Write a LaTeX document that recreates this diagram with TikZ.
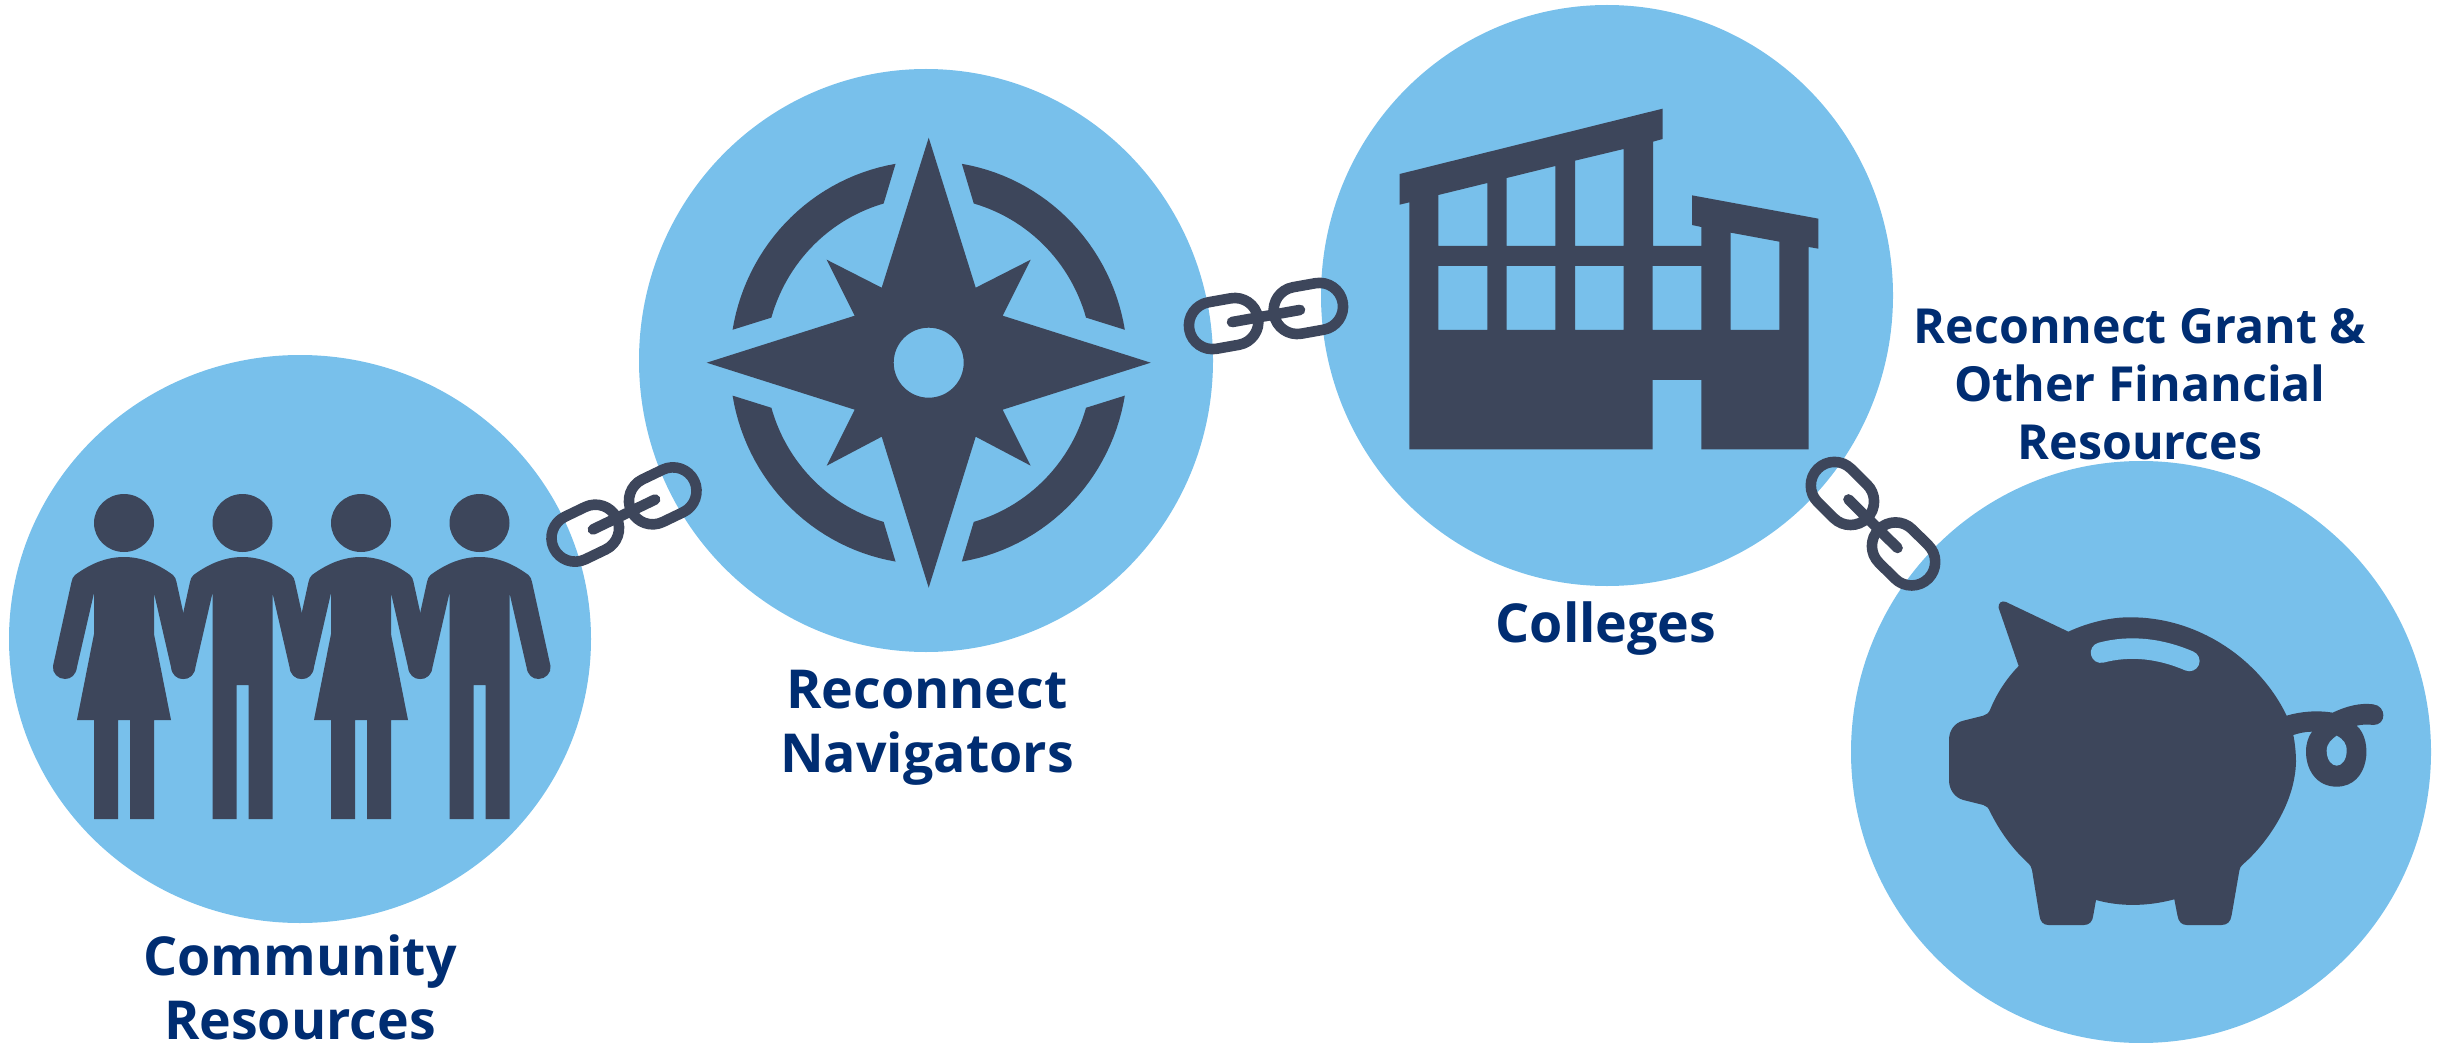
\documentclass[tikz,border=0pt]{standalone}
\usepackage{fontspec}
\setmainfont{Open Sans}
\usetikzlibrary{shapes.geometric}
\definecolor{discblue}{HTML}{78C0EB}
\definecolor{icondark}{HTML}{3D465B}
\definecolor{labelblue}{HTML}{002D72}
\tikzset{
  disc/.style={ellipse,fill=discblue,inner sep=0pt,outer sep=0pt},
  iconfill/.style={fill=icondark,draw=none},
  holefill/.style={fill=discblue,draw=none},
  caption/.style={text=labelblue,font=\fontsize{53.7}{63.5}\selectfont\bfseries,align=center,inner sep=0pt},
  captionsmall/.style={text=labelblue,font=\fontsize{48.3}{58}\selectfont\bfseries,align=center,inner sep=0pt},
  femalefig/.pic={
    \fill[iconfill] (0,523) ellipse [x radius=30pt,y radius=29pt];
    \fill[iconfill] (-30,593) -- (-47,667) .. controls (-48,675) and (-53,679) .. (-59,679) .. controls (-66,679) and (-72,673) .. (-71,666) -- (-52.5,582) .. controls (-52,579) and (-51,577) .. (-49,575) .. controls (-34,564) and (-18,557) .. (0,557) .. controls (18,557) and (34,564) .. (49,575) .. controls (51,577) and (52,579) .. (52.5,582) -- (71,666) .. controls (72,673) and (66,679) .. (59,679) .. controls (53,679) and (48,675) .. (47,667) -- (30,593) -- (30,634) -- (47,720) -- (30,720) -- (30,819) -- (6,819) -- (6,720) -- (-6,720) -- (-6,819) -- (-30,819) -- (-30,720) -- (-47,720) -- (-30,634) -- cycle;
  },
  malefig/.pic={
    \fill[iconfill] (0,523) ellipse [x radius=30pt,y radius=29pt];
    \fill[iconfill] (-30,593) -- (-47,667) .. controls (-48,675) and (-53,679) .. (-59,679) .. controls (-66,679) and (-72,673) .. (-71,666) -- (-52.5,582) .. controls (-52,579) and (-51,577) .. (-49,575) .. controls (-34,564) and (-18,557) .. (0,557) .. controls (18,557) and (34,564) .. (49,575) .. controls (51,577) and (52,579) .. (52.5,582) -- (71,666) .. controls (72,673) and (66,679) .. (59,679) .. controls (53,679) and (48,675) .. (47,667) -- (30,593) -- (30,819) -- (6,819) -- (6,685) -- (-6,685) -- (-6,819) -- (-30,819) -- cycle;
  },
  chainfig/.pic={
    \draw[icondark,line width=10.6pt,line join=round,rounded corners=23.6pt] (-43-11.3-23.6,-23.6) -- (-43+11.3+23.6,-23.6) -- (-43+11.3+23.6,23.6) -- (-43-11.3-23.6,23.6) -- cycle;
    \draw[icondark,line width=10.6pt,line join=round,rounded corners=23.6pt] (43-11.3-23.6,-23.6) -- (43+11.3+23.6,-23.6) -- (43+11.3+23.6,23.6) -- (43-11.3-23.6,23.6) -- cycle;
    \draw[icondark,line width=10.6pt,line cap=round] (-34.5,0) -- (34.5,0);
  },
}
\begin{document}
\begin{tikzpicture}[x=1pt,y=-1pt]
\useasboundingbox (0,0) rectangle (2445,1043);
% discs
\node[disc,minimum width=582pt,minimum height=568pt] (community) at (300,639) {};
\node[disc,minimum width=574pt,minimum height=583pt] (navigators) at (926,360.5) {};
\node[disc,minimum width=572pt,minimum height=581pt] (colleges) at (1607,295.5) {};
\node[disc,minimum width=580pt,minimum height=582pt] (grant) at (2141,752) {};
% people
\pic at (124,0) {femalefig};
\pic at (242.5,0) {malefig};
\pic at (361,0) {femalefig};
\pic at (479.5,0) {malefig};
% compass
\begin{scope}[shift={(928.7,362.7)}]
  \fill[iconfill,even odd rule] (0,-225) -- (47,-75) -- (102,-103) -- (74,-47) -- (222,0) -- (74,47) -- (102,103) -- (47,74) -- (0,225) -- (-47,74) -- (-102,103) -- (-74,47) -- (-222,0) -- (-74,-47) -- (-102,-103) -- (-47,-75) -- cycle (0,0) circle [radius=35pt];
  \foreach \sx/\sy in {1/1,-1/1,1/-1,-1/-1}{
    \begin{scope}[xscale=\sx,yscale=\sy]
      \fill[iconfill] plot[domain=-80.4:-9.4,samples=30] ({198.8*cos(\x)},{201.7*sin(\x)}) -- plot[domain=-15.8:-74,samples=30] ({163.5*cos(\x)},{165.6*sin(\x)}) -- cycle;
    \end{scope}
  }
\end{scope}
% building
\begin{scope}[shift={(1380,90)},scale=1/3]
  \fill[iconfill,even odd rule] (59,252) -- (848,56) -- (848,147) -- (819,155) -- (819,468) -- (964,468) -- (964,411) -- (936,405) -- (936,316) -- (1315,386) -- (1315,476) -- (1286,471) -- (1286,1078) -- (964,1078) -- (964,870) -- (818,870) -- (818,1078) -- (88,1078) -- (88,337) -- (59,344) -- cycle
  (175,315) -- (322,279) -- (322,468) -- (175,468) -- cycle
  (380,264) -- (526,228) -- (526,468) -- (380,468) -- cycle
  (585,212) -- (731,177) -- (731,468) -- (585,468) -- cycle
  (175,528) rectangle (322,720)
  (380,528) rectangle (526,720)
  (585,528) rectangle (731,720)
  (818,528) rectangle (964,720)
  (1052,428) -- (1198,455) -- (1198,720) -- (1052,720) -- cycle;
\end{scope}
% piggy bank
\begin{scope}[shift={(1900,580)},scale=1/3]
  \fill[iconfill] (296,84) .. controls (293,70) and (305,60) .. (318,66) -- (505,155)
   .. controls (570,125) and (640,110) .. (700,112)
   .. controls (900,115) and (1080,240) .. (1160,407)
   .. controls (1200,395) and (1250,390) .. (1298,398)
   .. controls (1340,378) and (1380,368) .. (1420,373)
   .. controls (1460,378) and (1460,435) .. (1420,435)
   .. controls (1400,432) and (1385,434) .. (1370,437)
   .. controls (1420,480) and (1410,620) .. (1310,620)
   .. controls (1250,620) and (1218,570) .. (1218,515)
   .. controls (1218,490) and (1225,470) .. (1236,455)
   .. controls (1215,455) and (1195,460) .. (1180,465)
   .. controls (1185,490) and (1188,520) .. (1188,545)
   .. controls (1185,680) and (1090,800) .. (1030,852)
   .. controls (1022,858) and (1019,864) .. (1018,872)
   -- (995,1005) .. controls (992,1025) and (982,1035) .. (965,1035)
   -- (860,1035) .. controls (845,1035) and (835,1025) .. (832,1005)
   -- (823,958) .. controls (740,980) and (660,980) .. (588,960)
   -- (580,1005) .. controls (578,1025) and (568,1035) .. (552,1035)
   -- (445,1035) .. controls (430,1035) and (420,1025) .. (418,1005)
   -- (396,870) .. controls (394,860) and (390,855) .. (385,850)
   .. controls (330,800) and (295,745) .. (270,695)
   .. controls (265,683) and (260,678) .. (250,675)
   -- (190,660) .. controls (165,653) and (147,630) .. (147,600)
   -- (147,480) .. controls (147,450) and (165,428) .. (190,422)
   -- (250,407) .. controls (260,404) and (265,400) .. (270,390)
   .. controls (290,340) and (320,295) .. (356,258)
   -- cycle;
  \draw[discblue,line width=20.5pt,line cap=round] (603,218) .. controls (690,195) and (780,205) .. (868,243);
  \fill[holefill] (1310,467) .. controls (1330,478) and (1340,490) .. (1340,512) .. controls (1340,540) and (1325,557) .. (1310,557) .. controls (1295,557) and (1280,540) .. (1280,512) .. controls (1280,490) and (1295,478) .. (1310,467) -- cycle;
\end{scope}
% chains
\coordinate (chainA) at (624,514.5);
\coordinate (chainB) at (1266,316);
\coordinate (chainC) at (1873,523.7);
\pic[rotate=25.7] at (chainA) {chainfig};
\pic[rotate=10.1] at (chainB) {chainfig};
\pic[rotate=-44.7] at (chainC) {chainfig};
% labels
\node[caption] (lblcommunity) at (300,987.5) {Community\\Resources};
\node[caption] (lblnavigators) at (927,728) {Reconnect\\Navigators};
\node[caption] (lblcolleges) at (1606,629) {Colleges};
\node[captionsmall] (lblgrant) at (2140,384) {Reconnect Grant \&\\Other Financial\\Resources};
\end{tikzpicture}
\end{document}
